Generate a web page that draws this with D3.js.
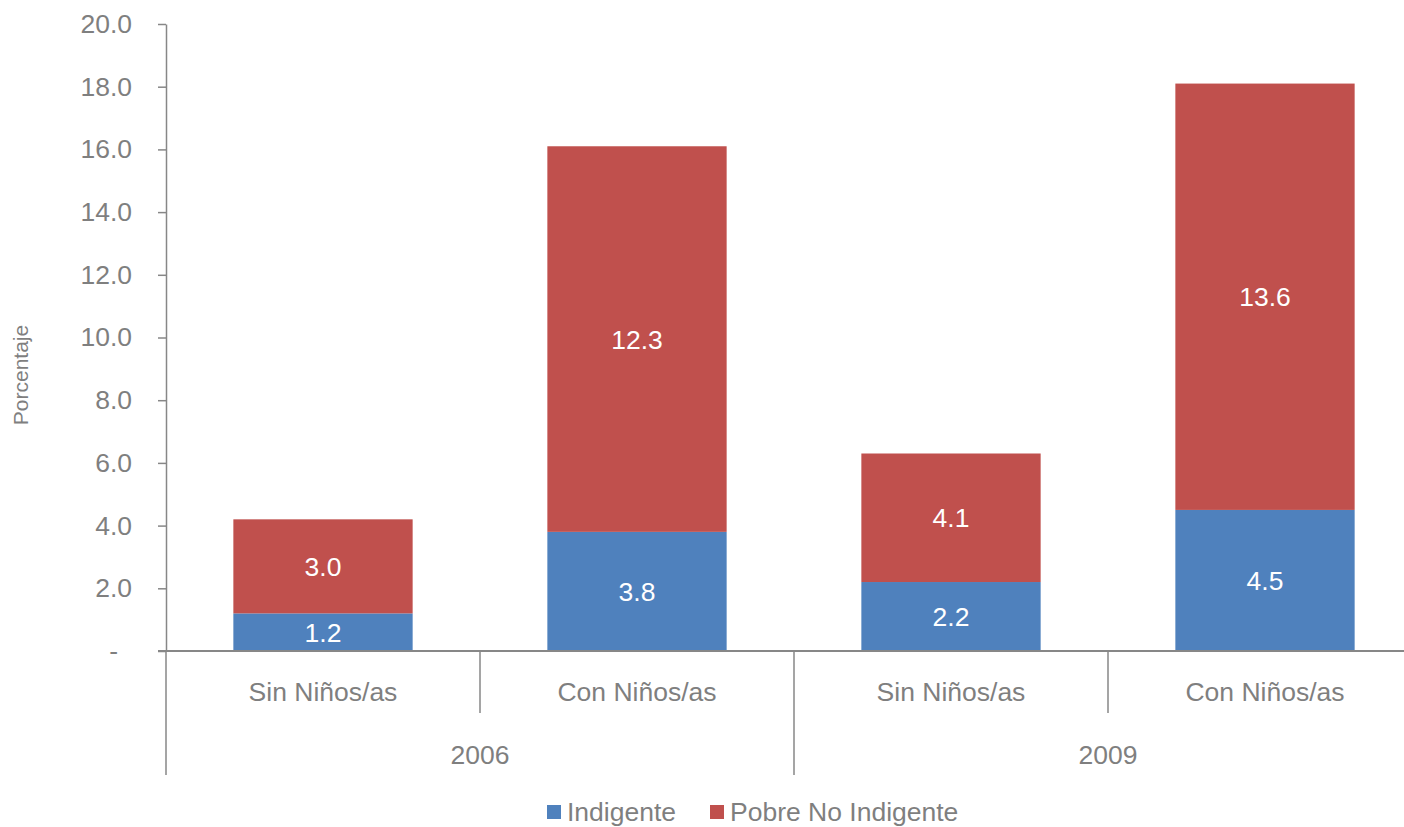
<!DOCTYPE html>
<html><head><meta charset="utf-8">
<script src="https://cdn.jsdelivr.net/npm/d3@7/dist/d3.min.js"></script>
<style>
body{margin:0;background:#fff;}
text{font-family:"Liberation Sans",Arial,sans-serif;}
</style></head>
<body>
<svg id="c" width="1404" height="827"></svg>
<script>
const categories = ["Sin Niños/as","Con Niños/as","Sin Niños/as","Con Niños/as"];
const years = ["2006","2009"];
const indigente = [1.2, 3.8, 2.2, 4.5];
const pobreNoIndigente = [3.0, 12.3, 4.1, 13.6];
const seriesNames = ["Indigente","Pobre No Indigente"];
const colors = ["#4F81BD","#C0504D"];
const yTicks = [0,2,4,6,8,10,12,14,16,18,20];

const svg = d3.select("#c");
const grey = "#7F7F7F", lineGrey = "#878787";
const FS = 26.5;
const x0 = 166, xEnd = 1422, yTop = 24, yBase = 651;
const idx = d3.range(categories.length);
const x = d3.scaleBand().domain(idx).range([x0, xEnd]).padding(0);
const y = d3.scaleLinear().domain([0,20]).range([yBase, yTop]);
const bw = x.bandwidth();
const barW = bw*0.571, barOff = (bw - barW)/2;

const stacked = d3.stack().keys([0,1]).value((d,k)=> k===0? indigente[d] : pobreNoIndigente[d])(idx);

stacked.forEach((s,si)=>{
  svg.append("g").selectAll("rect").data(s).join("rect")
    .attr("x",(d,i)=>x(i)+barOff).attr("width",barW)
    .attr("y",d=>y(d[1])).attr("height",d=>y(d[0])-y(d[1]))
    .attr("fill",colors[si]);
  svg.append("g").selectAll("text").data(s).join("text")
    .attr("x",(d,i)=>x(i)+bw/2).attr("y",d=>y((d[0]+d[1])/2))
    .attr("dy","0.36em").attr("text-anchor","middle")
    .attr("fill","#fff").attr("font-size",FS)
    .text(d=>(d[1]-d[0]).toFixed(1));
});

const yAxis = d3.axisLeft(y).tickValues(yTicks).tickSize(8).tickSizeOuter(0).tickPadding(26)
  .tickFormat(d=> d===0 ? "-" : d.toFixed(1));
const gy = svg.append("g").attr("transform",`translate(${x0},0)`).call(yAxis);
gy.select(".domain").attr("stroke",lineGrey).attr("stroke-width",1.5);
gy.selectAll(".tick line").attr("stroke",lineGrey).attr("stroke-width",1.5);
gy.selectAll(".tick text").attr("fill",grey).attr("font-size",FS).attr("font-family","Liberation Sans, Arial, sans-serif");
gy.selectAll(".tick text").filter(d=>d===0).attr("dx",-14);

svg.append("line").attr("x1",x0).attr("x2",x0).attr("y1",yBase).attr("y2",775)
  .attr("stroke",lineGrey).attr("stroke-width",1.5);
svg.append("line").attr("x1",x0-8).attr("x2",1404).attr("y1",yBase).attr("y2",yBase)
  .attr("stroke",lineGrey).attr("stroke-width",2);

idx.slice(1).forEach(i=>{
  const long = i % 2 === 0;
  svg.append("line").attr("x1",x(i)).attr("x2",x(i)).attr("y1",yBase).attr("y2", long?775:713)
    .attr("stroke",lineGrey).attr("stroke-width",1.5);
});

svg.append("g").selectAll("text").data(idx).join("text")
  .attr("x",i=>x(i)+bw/2).attr("y",691).attr("dy","0.36em").attr("text-anchor","middle")
  .attr("fill",grey).attr("font-size",FS).text(i=>categories[i]);
svg.append("g").selectAll("text").data(years).join("text")
  .attr("x",(d,j)=>x(j*2+1)).attr("y",754).attr("dy","0.36em").attr("text-anchor","middle")
  .attr("fill",grey).attr("font-size",FS).text(d=>d);

svg.append("text").attr("transform","translate(28,375) rotate(-90)").attr("text-anchor","middle")
  .attr("fill",grey).attr("font-size",21).text("Porcentaje");

const legX = [547, 710];
seriesNames.forEach((n,i)=>{
  svg.append("rect").attr("x",legX[i]).attr("y",805).attr("width",14).attr("height",14).attr("fill",colors[i]);
  svg.append("text").attr("x",legX[i]+20).attr("y",811).attr("dy","0.36em")
    .attr("fill",grey).attr("font-size",FS).text(n);
});
</script>
</body></html>
